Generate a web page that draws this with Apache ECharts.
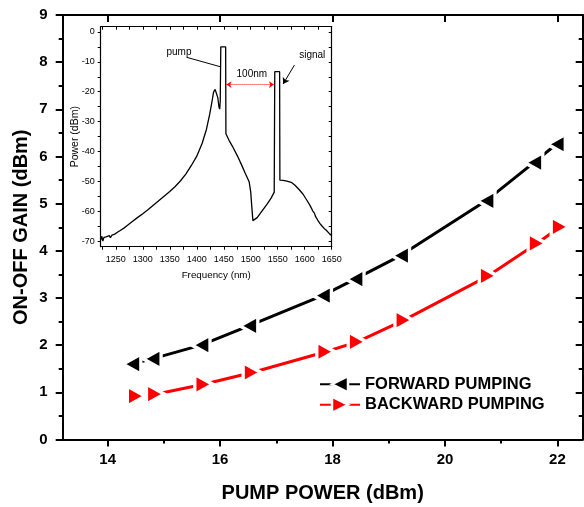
<!DOCTYPE html>
<html><head><meta charset="utf-8">
<script src="https://cdn.jsdelivr.net/npm/echarts@6/dist/echarts.min.js"></script>
<style>html,body{margin:0;padding:0;background:#fff}#c{width:584px;height:507px}</style>
</head><body><div id="c"></div>
<script>
// ---- main chart data ----
const fwdX = [14.43, 14.79, 15.66, 16.51, 17.82, 18.40, 19.21, 20.73, 21.58, 21.98];
const fwdY = [1.60, 1.71, 2.00, 2.41, 3.05, 3.40, 3.90, 5.06, 5.87, 6.26];
const bwdX = [14.51, 14.85, 15.71, 16.57, 17.88, 18.44, 19.27, 20.77, 21.64, 22.05];
const bwdY = [0.92, 0.96, 1.17, 1.42, 1.86, 2.07, 2.53, 3.47, 4.16, 4.51];
const seriesNames = ['FORWARD PUMPING', 'BACKWARD PUMPING'];
const xMajor = [14, 16, 18, 20, 22];
const xMinor = [15, 17, 19, 21];

// ---- inset spectrum data ----
const specNm = [1222,1224,1226,1228,1230,1232,1235,1238,1240,1243,1245,1248,1250,1253,1256,1259,1262,1265,1270,1280,1290,1300,1310,1320,1330,1340,1350,1360,1370,1380,1390,1400,1410,1418,1424,1428,1431,1434,1437,1439,1441,1442.5,1443.5,1444.5,1453.5,1454,1460,1467,1475,1483,1490,1497,1500,1502,1504,1507,1512,1520,1530,1538,1543.5,1544.5,1553.5,1554,1560,1567,1575,1582,1590,1597,1604,1610,1615,1618,1620,1622,1624,1626,1628,1630,1632,1634,1636,1638,1640,1642,1644,1646,1648,1650];
const specDb = [-69.5,-68.2,-69.8,-68.6,-69.2,-68.4,-68.9,-68.0,-68.7,-67.8,-68.3,-67.5,-67.9,-66.9,-67.3,-66.2,-66.4,-65.5,-64.8,-63.4,-62.0,-60.7,-59.3,-57.8,-56.3,-54.8,-53.3,-51.6,-49.7,-47.4,-44.6,-41.5,-37.2,-32.5,-27.5,-23.5,-20.2,-19.2,-19.8,-22,-25,-25.8,-23,-5,-5,-34,-36.3,-38.5,-41.3,-44.4,-47.3,-50,-53.5,-58.5,-63,-62.8,-62,-60,-57.6,-55.4,-53.5,-13.3,-13.3,-49.5,-49.6,-49.8,-50.2,-51.2,-52.7,-54.2,-56.2,-58,-59.8,-60.5,-61.6,-61.2,-62.8,-62.3,-63.9,-63.6,-64.8,-64.3,-65.6,-65.1,-66.2,-66,-67,-66.6,-67.8,-67.3];
const insetXLabels = [1250,1300,1350,1400,1450,1500,1550,1600,1650];
const insetXMinor = [1225,1250,1275,1300,1325,1350,1375,1400,1425,1450,1475,1500,1525,1550,1575,1600,1625,1650];
const insetYLabels = [0,-10,-20,-30,-40,-50,-60,-70];
const insetYTicks = [0,-5,-10,-15,-20,-25,-30,-35,-40,-45,-50,-55,-60,-65,-70];
// annotations (data coords)
const annoText = ['pump', 'signal', '100nm'];
const annoNm = [1367, 1614, 1502];
const annoDb = [-6.7, -7.8, -14.2];
const pumpArrow = [[1381, -8.5], [1444.5, -11.7]];
const signalArrow = [[1581, -11.1], [1560, -17.4]];
const spacingArrow = [[1455, -17.6], [1543, -17.6]];

const F = 'Liberation Sans, Arial, Helvetica, sans-serif';
const zip = (a, b) => a.map((v, i) => [v, b[i]]);

const mainAxisBase = (extra) => Object.assign({
  gridIndex: 0, type: 'value', splitLine: {show: false},
  axisLine: {show: true, onZero: false, lineStyle: {color: '#000', width: 2}},
  axisPointer: {show: false}
}, extra);

const insetAxisBase = (extra) => Object.assign({
  gridIndex: 1, type: 'value', splitLine: {show: false},
  axisLine: {show: true, onZero: false, lineStyle: {color: '#000', width: 1.2}},
  axisPointer: {show: false}
}, extra);

const option = {
  animation: false,
  backgroundColor: '#fff',
  grid: [
    {left: 62.7, right: 1.3, top: 15, bottom: 67.5, containLabel: false, outerBoundsMode: 'none'},
    {left: 100.7, right: 252.3, top: 26.7, bottom: 260.3, containLabel: false, outerBoundsMode: 'none'}
  ],
  legend: {
    data: seriesNames, orient: 'vertical', left: 314, top: 370,
    itemWidth: 40, itemHeight: 20, itemGap: 2,
    itemStyle: {borderWidth: 2.5},
    textStyle: {fontFamily: F, fontWeight: 'bold', fontSize: 16.5, color: '#000'}
  },
  xAxis: [
    mainAxisBase({position: 'bottom', min: 13.2, max: 22.45,
      axisTick: {show: true, customValues: xMajor, length: 7, lineStyle: {color: '#000', width: 2}},
      axisLabel: {show: true, customValues: xMajor, margin: 13, fontFamily: F, fontWeight: 'bold', fontSize: 15, color: '#000'},
      name: 'PUMP POWER (dBm)', nameLocation: 'middle', nameGap: 44, nameMoveOverlap: false,
      nameTextStyle: {fontFamily: F, fontWeight: 'bold', fontSize: 20, color: '#000'}}),
    mainAxisBase({position: 'bottom', min: 13.2, max: 22.45, axisLine: {show: false},
      axisTick: {show: true, customValues: xMinor, length: 4, lineStyle: {color: '#000', width: 2}},
      axisLabel: {show: false}}),
    mainAxisBase({position: 'top', min: 13.2, max: 22.45,
      axisTick: {show: true, inside: true, customValues: xMajor, length: 7, lineStyle: {color: '#000', width: 2}},
      axisLabel: {show: false}}),
    mainAxisBase({position: 'top', min: 13.2, max: 22.45, axisLine: {show: false},
      axisTick: {show: true, inside: true, customValues: xMinor, length: 4, lineStyle: {color: '#000', width: 2}},
      axisLabel: {show: false}}),
    insetAxisBase({position: 'bottom', min: 1222, max: 1650,
      axisTick: {show: true, customValues: insetXMinor, length: 3, lineStyle: {color: '#000', width: 1}},
      axisLabel: {show: true, customValues: insetXLabels, formatter: v => String(v), margin: 8, fontFamily: F, fontSize: 9, color: '#000'},
      name: 'Frequency (nm)', nameLocation: 'middle', nameGap: 24, nameMoveOverlap: false,
      nameTextStyle: {fontFamily: F, fontSize: 9.8, color: '#000'}}),
    insetAxisBase({position: 'top', min: 1222, max: 1650,
      axisTick: {show: true, inside: true, customValues: insetXMinor, length: 3, lineStyle: {color: '#000', width: 1}},
      axisLabel: {show: false}})
  ],
  yAxis: [
    mainAxisBase({position: 'left', min: 0, max: 9, interval: 1,
      axisTick: {show: true, length: 7, lineStyle: {color: '#000', width: 2}},
      minorTick: {show: true, splitNumber: 2, length: 4, lineStyle: {color: '#000', width: 2}},
      axisLabel: {show: true, margin: 15, fontFamily: F, fontWeight: 'bold', fontSize: 15, color: '#000'},
      name: 'ON-OFF GAIN (dBm)', nameLocation: 'middle', nameGap: 31, nameMoveOverlap: false,
      nameTextStyle: {fontFamily: F, fontWeight: 'bold', fontSize: 20, color: '#000'}}),
    mainAxisBase({position: 'right', min: 0, max: 9, interval: 1,
      axisTick: {show: true, inside: true, length: 7, lineStyle: {color: '#000', width: 2}},
      minorTick: {show: true, splitNumber: 2, length: 4, lineStyle: {color: '#000', width: 2}},
      axisLabel: {show: false}}),
    insetAxisBase({position: 'left', min: -71.7, max: 1.7,
      axisTick: {show: true, customValues: insetYTicks, length: 3, lineStyle: {color: '#000', width: 1}},
      axisLabel: {show: true, customValues: insetYLabels, margin: 6, fontFamily: F, fontSize: 9, color: '#000'},
      name: 'Power (dBm)', nameLocation: 'middle', nameGap: 20, nameMoveOverlap: false,
      nameTextStyle: {fontFamily: F, fontSize: 10.5, color: '#000'}}),
    insetAxisBase({position: 'right', min: -71.7, max: 1.7,
      axisTick: {show: true, inside: true, customValues: insetYTicks, length: 3, lineStyle: {color: '#000', width: 1}},
      axisLabel: {show: false}})
  ],
  series: [
    {
      name: seriesNames[0], type: 'line', xAxisIndex: 0, yAxisIndex: 0,
      data: zip(fwdX, fwdY), symbol: 'triangle', symbolRotate: 90, symbolSize: [20, 18],
      lineStyle: {color: '#000', width: 3}, itemStyle: {color: '#000', borderColor: '#fff', borderWidth: 3.5},
      z: 3
    },
    {
      name: seriesNames[1], type: 'line', xAxisIndex: 0, yAxisIndex: 0,
      data: zip(bwdX, bwdY), symbol: 'triangle', symbolRotate: -90, symbolSize: [20, 18],
      lineStyle: {color: '#ff0000', width: 3}, itemStyle: {color: '#ff0000', borderColor: '#fff', borderWidth: 3.5},
      z: 3
    },
    {
      name: 'spectrum', type: 'line', xAxisIndex: 4, yAxisIndex: 2,
      data: zip(specNm, specDb), symbol: 'none', showSymbol: false,
      lineStyle: {color: '#000', width: 1.3}, z: 2,
      markLine: {
        silent: true, symbolSize: 5, label: {show: false}, animation: false,
        data: [
          [{coord: pumpArrow[0], symbol: 'none', lineStyle: {color: '#000', width: 1, type: 'solid'}},
           {coord: pumpArrow[1], symbol: 'none', lineStyle: {color: '#000', width: 1, type: 'solid'}}],
          [{coord: signalArrow[0], symbol: 'none', lineStyle: {color: '#000', width: 1, type: 'solid'}},
           {coord: signalArrow[1], symbol: 'arrow', symbolSize: 6, lineStyle: {color: '#000', width: 1, type: 'solid'}}],
          [{coord: spacingArrow[0], symbol: 'arrow', lineStyle: {color: '#ff0000', width: 1, type: 'dotted'}},
           {coord: spacingArrow[1], symbol: 'arrow', lineStyle: {color: '#ff0000', width: 1, type: 'dotted'}}]
        ]
      },
      markPoint: {
        silent: true, symbol: 'circle', symbolSize: 1, itemStyle: {color: 'rgba(0,0,0,0)'},
        label: {show: true, position: 'inside', formatter: p => p.name, fontFamily: F, fontSize: 10, color: '#000'},
        data: annoText.map((t, i) => ({name: t, coord: [annoNm[i], annoDb[i]]}))
      }
    }
  ]
};

const chart = echarts.init(document.getElementById('c'), null, {renderer: 'canvas'});
chart.setOption(option);
</script></body></html>
